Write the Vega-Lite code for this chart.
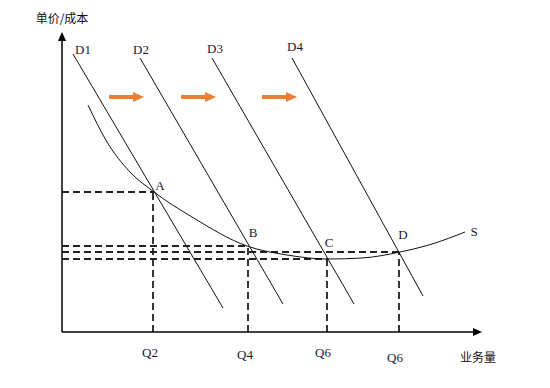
{
  "$schema": "https://vega.github.io/schema/vega-lite/v6.json",
  "width": 550,
  "height": 388,
  "padding": 0,
  "autosize": "none",
  "background": "white",
  "config": {"view": {"stroke": null}},
  "datasets": {
    "axes": [
      {"x": 0, "y": 0, "x2": 0, "y2": 294},
      {"x": 0, "y": 0, "x2": 412, "y2": 0}
    ],
    "axisHeads": [
      {"x": 0, "y": 295.5, "dir": "up"},
      {"x": 415.5, "y": 0, "dir": "right"}
    ],
    "demand": [
      {"name": "D1", "x": 11, "y": 278, "x2": 161, "y2": 24},
      {"name": "D2", "x": 78, "y": 274, "x2": 221, "y2": 28},
      {"name": "D3", "x": 150, "y": 274, "x2": 292, "y2": 28},
      {"name": "D4", "x": 230, "y": 274, "x2": 361, "y2": 36}
    ],
    "dashed": [
      {"x": 0, "y": 140, "x2": 92, "y2": 140},
      {"x": 0, "y": 86, "x2": 186, "y2": 86},
      {"x": 0, "y": 80, "x2": 338, "y2": 80},
      {"x": 0, "y": 73, "x2": 265, "y2": 73},
      {"x": 91, "y": 0, "x2": 91, "y2": 140},
      {"x": 186, "y": 0, "x2": 186, "y2": 86},
      {"x": 265, "y": 0, "x2": 265, "y2": 73},
      {"x": 337, "y": 0, "x2": 337, "y2": 80}
    ],
    "supply": [
      {"x": 26, "y": 227}, {"x": 45, "y": 190}, {"x": 68, "y": 160},
      {"x": 92, "y": 140}, {"x": 130, "y": 115}, {"x": 185, "y": 86},
      {"x": 225, "y": 77}, {"x": 265, "y": 73}, {"x": 300, "y": 74},
      {"x": 338, "y": 80}, {"x": 370, "y": 88}, {"x": 403, "y": 100}
    ],
    "shafts": [
      {"x": 47, "x2": 72, "y": 235},
      {"x": 119, "x2": 144, "y": 235},
      {"x": 200, "x2": 225, "y": 235}
    ],
    "heads": [
      {"x": 76.5, "y": 235},
      {"x": 148.5, "y": 235},
      {"x": 229.5, "y": 235}
    ],
    "labels": [
      {"text": "D1", "x": 21, "y": 282},
      {"text": "D2", "x": 79, "y": 282},
      {"text": "D3", "x": 153, "y": 283},
      {"text": "D4", "x": 233, "y": 285},
      {"text": "A", "x": 98, "y": 146},
      {"text": "B", "x": 191, "y": 99},
      {"text": "C", "x": 267, "y": 89},
      {"text": "D", "x": 341, "y": 97},
      {"text": "S", "x": 412, "y": 100},
      {"text": "Q2", "x": 88, "y": -21},
      {"text": "Q4", "x": 183, "y": -23},
      {"text": "Q6", "x": 261, "y": -21},
      {"text": "Q6", "x": 333, "y": -26}
    ],
    "cjk": [
      {"text": "单价/成本", "x": 0, "y": 313},
      {"text": "业务量", "x": 416, "y": -26}
    ]
  },
  "encoding": {
    "x": {"field": "x", "type": "quantitative", "scale": {"domain": [-62, 488], "nice": false, "zero": false}, "axis": null},
    "y": {"field": "y", "type": "quantitative", "scale": {"domain": [-56, 332], "nice": false, "zero": false}, "axis": null}
  },
  "layer": [
    {
      "data": {"name": "dashed"},
      "mark": {"type": "rule", "stroke": "#222", "strokeWidth": 1.8, "strokeDash": [7, 4]},
      "encoding": {"x2": {"field": "x2"}, "y2": {"field": "y2"}}
    },
    {
      "data": {"name": "demand"},
      "mark": {"type": "rule", "stroke": "#111", "strokeWidth": 1},
      "encoding": {"x2": {"field": "x2"}, "y2": {"field": "y2"}}
    },
    {
      "data": {"name": "supply"},
      "mark": {"type": "line", "stroke": "#111", "strokeWidth": 1, "interpolate": "monotone"},
      "encoding": {}
    },
    {
      "data": {"name": "axes"},
      "mark": {"type": "rule", "stroke": "#000", "strokeWidth": 1.5},
      "encoding": {"x2": {"field": "x2"}, "y2": {"field": "y2"}}
    },
    {
      "data": {"name": "axisHeads"},
      "transform": [{"filter": "datum.dir === 'up'"}],
      "mark": {"type": "point", "shape": "M0,-1L0.9,1L-0.9,1Z", "size": 81, "filled": true, "color": "#000", "opacity": 1},
      "encoding": {}
    },
    {
      "data": {"name": "axisHeads"},
      "transform": [{"filter": "datum.dir === 'right'"}],
      "mark": {"type": "point", "shape": "M1,0L-1,0.9L-1,-0.9Z", "size": 81, "filled": true, "color": "#000", "opacity": 1},
      "encoding": {}
    },
    {
      "data": {"name": "shafts"},
      "mark": {"type": "rule", "stroke": "#ED7D31", "strokeWidth": 4},
      "encoding": {"x2": {"field": "x2"}}
    },
    {
      "data": {"name": "heads"},
      "mark": {"type": "point", "shape": "M1,0L-1,0.9L-1,-0.9Z", "size": 121, "filled": true, "color": "#ED7D31", "opacity": 1},
      "encoding": {}
    },
    {
      "data": {"name": "labels"},
      "mark": {"type": "text", "font": "Liberation Serif", "fontSize": 13, "color": "#1a1a3a", "align": "center", "baseline": "middle"},
      "encoding": {"text": {"field": "text"}}
    },
    {
      "data": {"name": "cjk"},
      "mark": {"type": "text", "font": "Noto Sans CJK SC", "fontSize": 12, "color": "#111", "align": "center", "baseline": "middle"},
      "encoding": {"text": {"field": "text"}}
    }
  ]
}
